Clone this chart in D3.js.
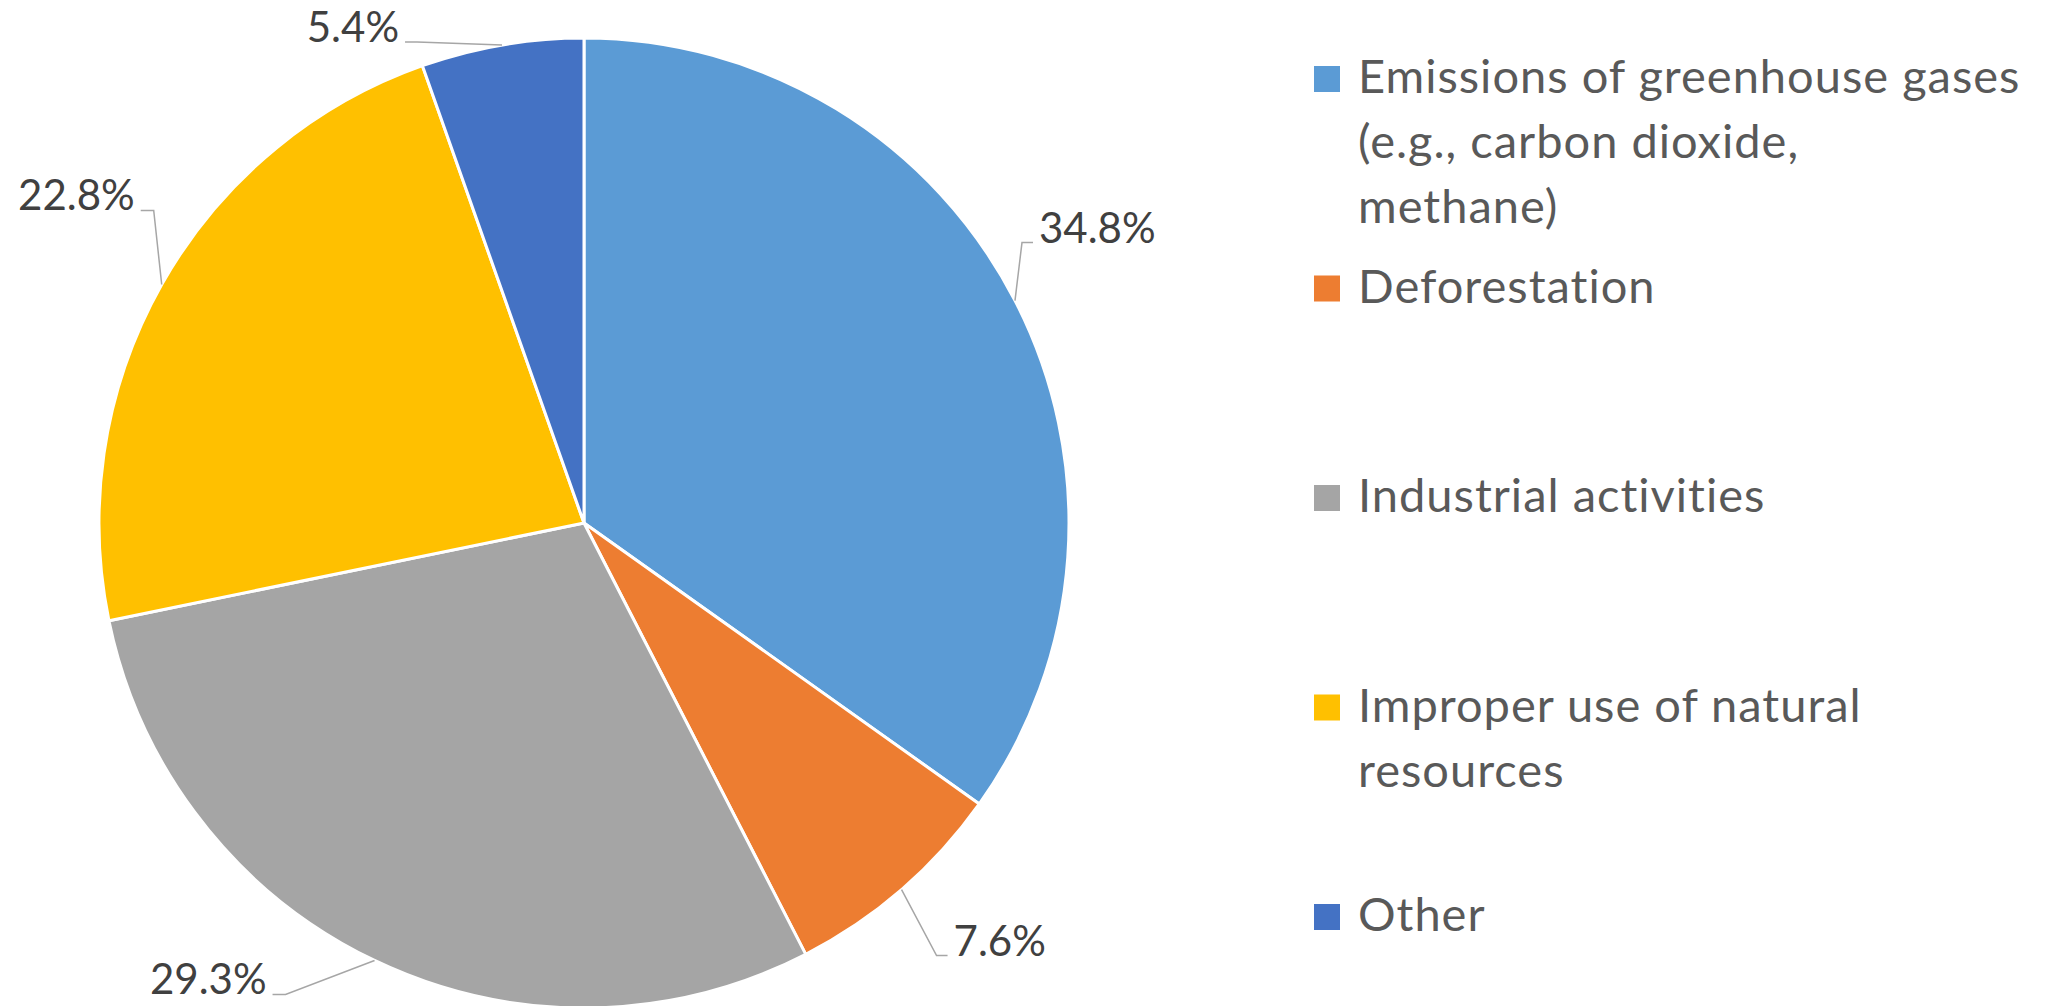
<!DOCTYPE html>
<html><head><meta charset="utf-8">
<script src="https://cdn.jsdelivr.net/npm/d3@7"></script>
<style>html,body{margin:0;padding:0;background:#fff;} svg{display:block;}</style>
</head><body>
<script>
// ---- data ----
const categories = ["Emissions of greenhouse gases\n(e.g., carbon dioxide,\nmethane)", "Deforestation", "Industrial activities", "Improper use of natural\nresources", "Other"];
const values = [34.8, 7.6, 29.3, 22.8, 5.4];
const colors = ["#5B9BD5", "#ED7D31", "#A5A5A5", "#FFC000", "#4472C4"];
const valueLabels = values.map(v => v.toFixed(1) + "%");

// ---- layout ----
const W = 2052, H = 1006;
const cx = 584, cy = 523, R = 485;
const FONT = "Lato, 'Open Sans', sans-serif";

const svg = d3.select("body").append("svg").attr("width", W).attr("height", H);
svg.append("rect").attr("width", W).attr("height", H).attr("fill", "#fff");

const arcs = d3.pie().sort(null).value(d => d)(values);
const arc = d3.arc().innerRadius(0).outerRadius(R);
const g = svg.append("g").attr("transform", `translate(${cx},${cy})`);

g.selectAll("path.slice").data(arcs).join("path")
  .attr("class", "slice")
  .attr("d", arc)
  .attr("fill", (d, i) => colors[i])
  .attr("stroke", "#fff")
  .attr("stroke-width", 3)
  .attr("stroke-linejoin", "round");

// leader-line elbow nudges relative to the slice's outer mid point
const nudge = [[7, -58], [35, 66], [-89, 34], [-8, -74], [-85, -3]];
const hLen = [11, 11, 13, 13, 12];

arcs.forEach((d, i) => {
  const a = (d.startAngle + d.endAngle) / 2;
  const ex = R * Math.sin(a), ey = -R * Math.cos(a);
  const bx = ex + nudge[i][0], by = ey + nudge[i][1];
  const right = ex > 0;
  const hx = right ? bx + hLen[i] : bx - hLen[i];
  g.append("polyline")
    .attr("points", `${ex},${ey} ${bx},${by} ${hx},${by}`)
    .attr("fill", "none")
    .attr("stroke", "#A6A6A6")
    .attr("stroke-width", 1.5);
  g.append("text")
    .attr("x", right ? hx + 6 : hx - 6)
    .attr("y", by)
    .attr("text-anchor", right ? "start" : "end")
    .attr("font-family", FONT)
    .attr("font-size", 42)
    .attr("fill", "#404040")
    .text(valueLabels[i]);
});

// ---- legend ----
const legend = svg.append("g");
const ly0 = 93, lstep = 209.5;
categories.forEach((c, i) => {
  const y = ly0 + i * lstep;
  legend.append("rect")
    .attr("x", 1314).attr("y", y - 27)
    .attr("width", 26).attr("height", 26)
    .attr("fill", colors[i]);
  const t = legend.append("text")
    .attr("x", 1358).attr("y", y)
    .attr("font-family", FONT)
    .attr("font-size", 47)
    .attr("letter-spacing", 1)
    .attr("fill", "#595959");
  c.split("\n").forEach((line, j) => {
    t.append("tspan").attr("x", 1358).attr("y", y + j * 65).text(line);
  });
});
</script>
</body></html>
